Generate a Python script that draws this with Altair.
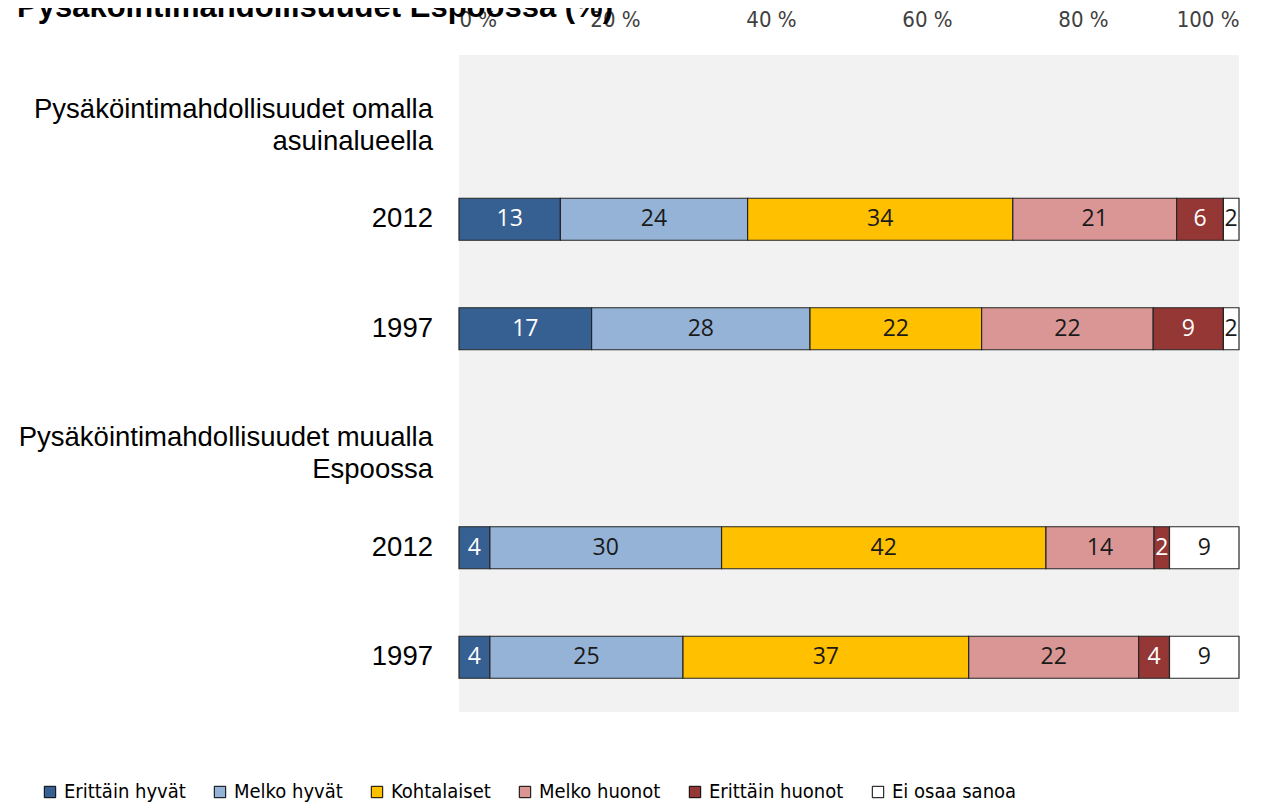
import altair as alt
import pandas as pd

categories = ["Erittäin hyvät", "Melko hyvät", "Kohtalaiset", "Melko huonot", "Erittäin huonot", "Ei osaa sanoa"]
colors = ["#376092", "#95B3D7", "#FFC000", "#D99694", "#953735", "#FFFFFF"]

row_keys = ["A0", "A1", "A2", "B0", "B1", "B2"]
row_labels = ["Pysäköintimahdollisuudet omalla\nasuinalueella", "2012", "1997",
              "Pysäköintimahdollisuudet muualla\nEspoossa", "2012", "1997"]

omalla_2012 = [13, 24, 34, 21, 6, 2]
omalla_1997 = [17, 28, 22, 22, 9, 2]
muualla_2012 = [4, 30, 42, 14, 2, 9]
muualla_1997 = [4, 25, 37, 22, 4, 9]

series = {"A1": omalla_2012, "A2": omalla_1997, "B1": muualla_2012, "B2": muualla_1997}
title_text = "Pysäköintimahdollisuudet Espoossa (%)"
x_ticks = [0, 0.2, 0.4, 0.6, 0.8, 1.0]

records = []
for key, vals in series.items():
    for i, (cat, v) in enumerate(zip(categories, vals)):
        records.append({"row": key, "cat": cat, "ord": i, "value": v,
                        "light": 1 if cat in ("Erittäin hyvät", "Erittäin huonot") else 0})
df = pd.DataFrame(records)
labels_df = pd.DataFrame({"row": row_keys, "label": row_labels})
title_df = pd.DataFrame({"t": [title_text]})

yscale = alt.Scale(domain=row_keys, paddingInner=0.616, paddingOuter=0.308)
color_scale = alt.Scale(domain=categories, range=colors)

base = alt.Chart(df).transform_stack(
    stack="value", groupby=["row"], as_=["x0", "x1"], offset="normalize",
    sort=[alt.SortField("ord", order="ascending")]
).transform_calculate(mid="(datum.x0 + datum.x1) / 2")

bars = base.mark_bar(stroke="#262626", strokeWidth=1.2).encode(
    y=alt.Y("row:N", scale=yscale, axis=None),
    x=alt.X("x0:Q", scale=alt.Scale(domain=[0, 1], nice=False),
            axis=alt.Axis(orient="top", values=x_ticks, labelExpr="round(datum.value*100) + ' %'",
                          domain=False, ticks=False, grid=False, title=None,
                          labelFont="Liberation Sans Narrow, DejaVu Sans Condensed", labelFontSize=22,
                          labelColor="#404040", labelPadding=24)),
    x2="x1:Q",
    fill=alt.Fill("cat:N", scale=color_scale, sort=categories,
                  legend=alt.Legend(title=None, orient="none", direction="horizontal",
                                    legendX=-419, legendY=727, symbolType="square", symbolSize=130,
                                    symbolStrokeColor="#000000", symbolStrokeWidth=1,
                                    labelFont="Liberation Sans Narrow, DejaVu Sans Condensed",
                                    labelFontSize=20, labelColor="#000000", columnPadding=24,
                                    symbolOffset=0, labelOffset=4)),
)

texts = base.mark_text(font="Open Sans", fontSize=23, baseline="middle", align="center").encode(
    y=alt.Y("row:N", scale=yscale),
    x=alt.X("mid:Q"),
    text=alt.Text("value:Q"),
    color=alt.condition("datum.light == 1", alt.value("#FFFFFF"), alt.value("#1A1A1A")),
)

ylabels = alt.Chart(labels_df).mark_text(font="Liberation Sans", fontSize=27.5, align="right",
                                         baseline="middle", lineBreak="\n", lineHeight=32,
                                         color="#000000").encode(
    y=alt.Y("row:N", scale=yscale),
    x=alt.value(-26),
    text="label:N",
)

title = alt.Chart(title_df).mark_text(font="Liberation Sans", fontSize=31, fontWeight="bold",
                                      align="left", baseline="alphabetic", color="#000000").encode(
    x=alt.value(-442), y=alt.value(-38), text="t:N")

chart = alt.layer(bars, texts, ylabels, title).properties(
    width=780, height=657,
    autosize=alt.AutoSizeParams(type="none"),
    padding={"left": 451, "top": 47, "right": 28, "bottom": 90},
).configure_view(fill="#F2F2F2", stroke=None)

chart.save("out.html", embed_options={"renderer": "svg", "actions": False})
